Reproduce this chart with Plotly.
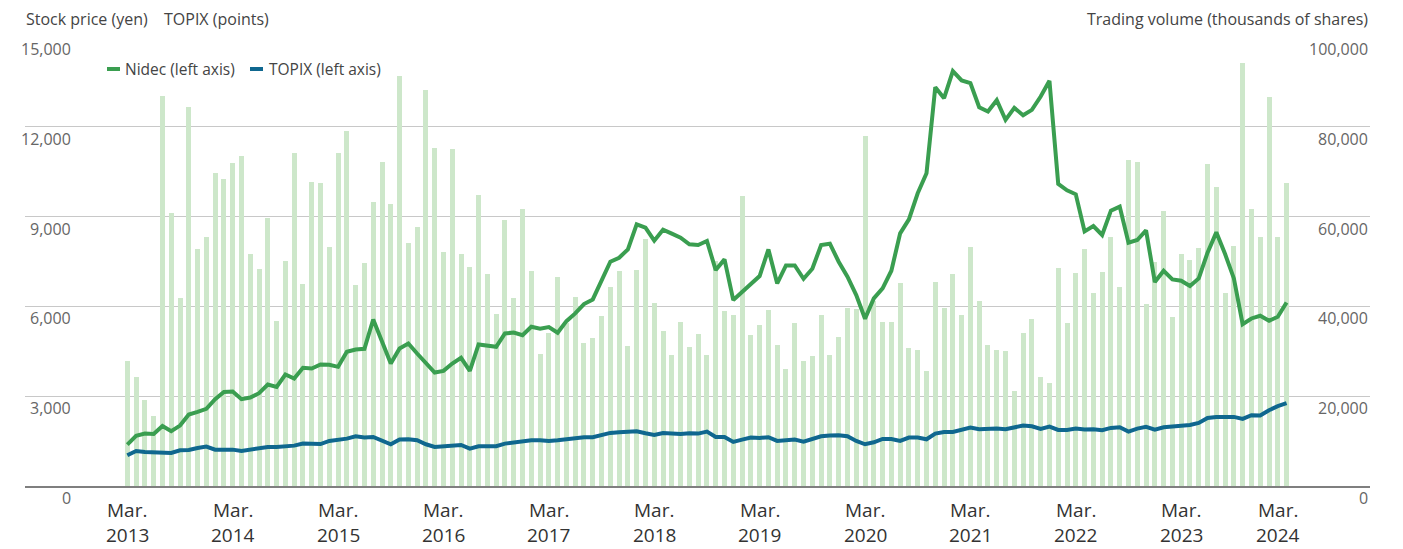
import pandas as pd
import plotly.graph_objects as go

# ---------------- data ----------------
months = pd.date_range("2013-03-01", periods=133, freq="MS").strftime("%Y-%m").tolist()

volume = [  # trading volume, thousands of shares
    27800, 24300, 19200, 15600, 86800, 60900, 41900, 84500, 52800, 55500,
    69700, 68400, 72000, 73500, 51700, 48400, 59800, 36800, 50200, 74200,
    45000, 67800, 67500, 53200, 74200, 79100, 44800, 49700, 63300, 72200,
    62800, 91400, 54100, 57700, 88300, 75300, 52100, 75100, 51700, 48800,
    64800, 47200, 38300, 59300, 41900, 61700, 47900, 29400, 34100, 46500,
    36200, 42100, 31800, 32900, 37800, 44300, 47900, 31200, 48200, 55000,
    40700, 34500, 29100, 36500, 30900, 33800, 29100, 50200, 39000, 38100,
    64600, 33600, 35800, 39200, 31400, 26000, 36300, 27800, 28900, 38100,
    29100, 33200, 39600, 39400, 78000, 41200, 36500, 36500, 45200, 30700,
    30300, 25600, 45400, 39600, 47200, 38100, 53200, 41200, 31400, 30300,
    30000, 21100, 34100, 37200, 24200, 22900, 48600, 36300, 47400, 52800,
    43000, 47700, 55500, 44300, 72600, 72200, 40500, 49900, 61300, 37600,
    51700, 50300, 53000, 71700, 66600, 43000, 53500, 94300, 61700, 55500,
    86700, 55500, 67500,
]

nidec = [  # stock price, yen
    1383, 1673, 1750, 1740, 2007, 1829, 2018, 2386, 2475, 2576,
    2899, 3144, 3155, 2899, 2955, 3100, 3390, 3312, 3724, 3590,
    3947, 3925, 4059, 4047, 3981, 4482, 4560, 4583, 5564, 4817,
    4092, 4594, 4761, 4427, 4092, 3791, 3847, 4092, 4282, 3847,
    4728, 4683, 4650, 5096, 5129, 5040, 5319, 5252, 5307, 5118,
    5508, 5765, 6077, 6233, 6902, 7493, 7627, 7905, 8742, 8630,
    8195, 8563, 8429, 8296, 8073, 8050, 8184, 7214, 7571, 6211,
    6478, 6735, 7013, 7905, 6768, 7370, 7370, 6924, 7259, 8050,
    8095, 7493, 6991, 6378, 5586, 6266, 6601, 7192, 8440, 8909,
    9779, 10448, 13324, 12956, 13859, 13547, 13458, 12655, 12510, 12889,
    12232, 12633, 12388, 12566, 13012, 13536, 10091, 9879, 9745, 8507,
    8686, 8385, 9199, 9333, 8128, 8218, 8541, 6813, 7192, 6902,
    6857, 6679, 6935, 7794, 8474, 7749, 6935, 5408, 5597, 5687,
    5519, 5653, 6133,
]

topix = [  # TOPIX, points
    1026, 1171, 1137, 1137, 1137, 1104, 1193, 1204, 1271, 1316,
    1215, 1215, 1215, 1171, 1215, 1271, 1305, 1305, 1338, 1349,
    1416, 1405, 1400, 1505, 1528, 1583, 1661, 1617, 1639, 1505,
    1394, 1550, 1561, 1528, 1394, 1305, 1338, 1338, 1371, 1249,
    1327, 1327, 1327, 1416, 1450, 1505, 1528, 1528, 1505, 1528,
    1572, 1617, 1628, 1628, 1684, 1773, 1795, 1817, 1829, 1762,
    1706, 1773, 1751, 1739, 1762, 1751, 1817, 1639, 1639, 1472,
    1550, 1617, 1606, 1628, 1505, 1539, 1550, 1483, 1572, 1661,
    1684, 1695, 1661, 1505, 1394, 1461, 1572, 1572, 1505, 1617,
    1617, 1561, 1751, 1806, 1806, 1862, 1951, 1896, 1918, 1918,
    1896, 1951, 2018, 1996, 1907, 1985, 1873, 1873, 1918, 1884,
    1896, 1862, 1940, 1962, 1817, 1918, 1974, 1884, 1962, 1985,
    1996, 2040, 2107, 2275, 2308, 2308, 2308, 2241, 2364, 2353,
    2531, 2665, 2765,
]

label_years = ["2013", "2014", "2015", "2016", "2017", "2018",
               "2019", "2020", "2021", "2022", "2023", "2024"]
price_ticks = [0, 3000, 6000, 9000, 12000, 15000]
volume_ticks = [0, 20000, 40000, 60000, 80000, 100000]

# ---------------- styling ----------------
GREEN = "#3a9e50"
BLUE = "#0f678f"
BAR = "#cde7ca"
FONT = "Open Sans"

OFF = 8                      # default page (body) margin
W, H = 1403 - OFF, 549 - OFF
# plot area in window pixels
PL, PR, PT, PB = 25, 1370, 37, 486


def px_x(px):
    return (px - PL) / (PR - PL)


def px_y(py):
    return (PB - py) / (PB - PT)


fig = go.Figure()

fig.add_trace(go.Bar(
    x=months, y=volume, name="Trading volume (right axis)",
    marker=dict(color=BAR, line=dict(width=0)), width=0.57,
    yaxis="y", showlegend=False,
))
fig.add_trace(go.Scatter(
    x=months, y=nidec, name="Nidec (left axis)", mode="lines",
    line=dict(color=GREEN, width=4), yaxis="y2", showlegend=False,
))
fig.add_trace(go.Scatter(
    x=months, y=topix, name="TOPIX (left axis)", mode="lines",
    line=dict(color=BLUE, width=4), yaxis="y2", showlegend=False,
))

annotations = []
# left tick labels (price)
for v in price_ticks:
    annotations.append(dict(
        x=px_x(73), xref="paper", xanchor="right",
        y=v, yref="y2", yanchor="middle", yshift=-12,
        text=f"{v:,}", showarrow=False,
        font=dict(family=FONT, size=16, color="#666666"),
    ))
# right tick labels (volume)
for v in volume_ticks:
    annotations.append(dict(
        x=1, xref="paper", xanchor="right",
        y=v, yref="y", yanchor="middle", yshift=-12,
        text=f"{v:,}", showarrow=False,
        font=dict(family=FONT, size=16, color="#666666"),
    ))
# x labels
for k, yr in enumerate(label_years):
    idx = months.index(f"{yr}-03")
    xs = -9 if k == len(label_years) - 1 else 0
    annotations.append(dict(
        x=idx, xref="x", y=0, yref="paper", yanchor="middle", yshift=-24,
        xshift=xs, text="Mar.", showarrow=False,
        font=dict(family=FONT, size=19, color="#333333"),
    ))
    annotations.append(dict(
        x=idx, xref="x", y=0, yref="paper", yanchor="middle", yshift=-49,
        xshift=xs, text=yr, showarrow=False,
        font=dict(family=FONT, size=19, color="#333333"),
    ))
# header axis titles
annotations += [
    dict(x=px_x(24), xref="paper", xanchor="left", y=px_y(19), yref="paper",
         yanchor="middle", text="Stock price (yen)", showarrow=False,
         font=dict(family=FONT, size=16, color="#444444")),
    dict(x=px_x(162), xref="paper", xanchor="left", y=px_y(19), yref="paper",
         yanchor="middle", text="TOPIX (points)", showarrow=False,
         font=dict(family=FONT, size=16, color="#444444")),
    dict(x=1, xref="paper", xanchor="right", y=px_y(19), yref="paper",
         yanchor="middle", text="Trading volume (thousands of shares)",
         showarrow=False, font=dict(family=FONT, size=16, color="#444444")),
]
# legend (custom)
annotations += [
    dict(x=px_x(123), xref="paper", xanchor="left", y=px_y(69), yref="paper",
         yanchor="middle", text="Nidec (left axis)", showarrow=False,
         font=dict(family=FONT, size=15.5, color="#444444")),
    dict(x=px_x(267), xref="paper", xanchor="left", y=px_y(69), yref="paper",
         yanchor="middle", text="TOPIX (left axis)", showarrow=False,
         font=dict(family=FONT, size=15.5, color="#444444")),
]
shapes = [
    dict(type="line", xref="paper", yref="paper", x0=px_x(107), x1=px_x(120),
         y0=px_y(69), y1=px_y(69), line=dict(color=GREEN, width=4)),
    dict(type="line", xref="paper", yref="paper", x0=px_x(250), x1=px_x(263),
         y0=px_y(69), y1=px_y(69), line=dict(color=BLUE, width=4)),
]

fig.update_layout(
    width=W, height=H,
    margin=dict(l=PL - OFF, r=W - (PR - OFF), t=PT - OFF, b=H - (PB - OFF)),
    paper_bgcolor="white", plot_bgcolor="white",
    bargap=0,
    font=dict(family=FONT, size=15, color="#444444"),
    xaxis=dict(
        type="category", categoryorder="array", categoryarray=months,
        range=[-11.65, 141.5], showticklabels=False, ticks="",
        showgrid=False, zeroline=False,
        showline=True, linecolor="#7f7f7f", linewidth=1.5,
    ),
    yaxis=dict(
        range=[0, 100000], tickvals=volume_ticks, showticklabels=False,
        side="right", showgrid=True, gridcolor="#c8c8c8", gridwidth=1,
        zeroline=False, showline=False, ticks="",
    ),
    yaxis2=dict(
        range=[0, 15000], tickvals=price_ticks, showticklabels=False,
        overlaying="y", side="left", showgrid=False, zeroline=False,
        showline=False, ticks="",
    ),
    annotations=annotations,
    shapes=shapes,
    hovermode="x unified",
)

fig.write_html("out.html")
